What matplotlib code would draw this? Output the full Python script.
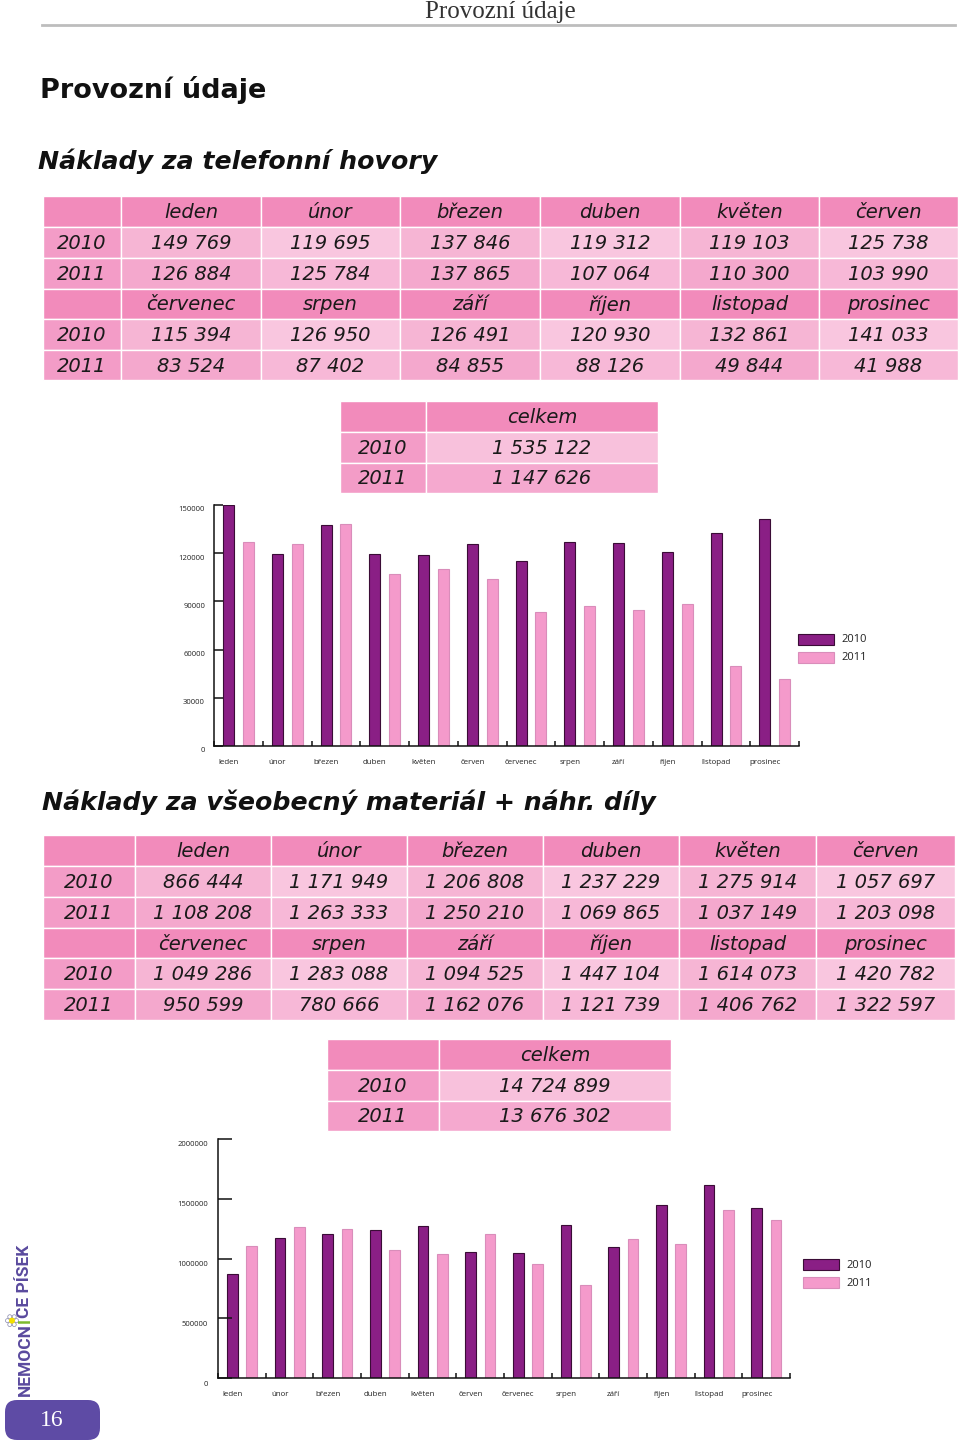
import matplotlib
matplotlib.use("Agg")
import numpy as np
import matplotlib.pyplot as plt
from matplotlib.patches import Rectangle, FancyBboxPatch, Circle
import matplotlib.transforms as mtransforms

W, H = 960, 1442
DPI = 100

# ---------------- data ----------------
months = ["leden", "únor", "březen", "duben", "květen", "červen",
          "červenec", "srpen", "září", "říjen", "listopad", "prosinec"]
years = ["2010", "2011"]
tel_2010 = [149769, 119695, 137846, 119312, 119103, 125738,
            115394, 126950, 126491, 120930, 132861, 141033]
tel_2011 = [126884, 125784, 137865, 107064, 110300, 103990,
            83524, 87402, 84855, 88126, 49844, 41988]
tel_total = [1535122, 1147626]
mat_2010 = [866444, 1171949, 1206808, 1237229, 1275914, 1057697,
            1049286, 1283088, 1094525, 1447104, 1614073, 1420782]
mat_2011 = [1108208, 1263333, 1250210, 1069865, 1037149, 1203098,
            950599, 780666, 1162076, 1121739, 1406762, 1322597]
mat_total = [14724899, 13676302]
tel_yticks = [0, 30000, 60000, 90000, 120000, 150000]
mat_yticks = [0, 500000, 1000000, 1500000, 2000000]

# ---------------- style ----------------
HDR = "#F28BBB"
FIRST = "#F39CC7"
DATA = [["#F6B5D4", "#F4A8CD"], ["#F9C6DF", "#F7B8D7"]]
SUM = ["#F8C1DC", "#F5A9CF"]
C10, E10 = "#8A1F85", "#3A0C36"
C11, E11 = "#F49ACB", "#D98DBA"
TXT = "#1a1a1a"
TFONT = dict(family="DejaVu Sans", style="italic", fontsize=14, color=TXT)
SFONT = "Open Sans"


def fmt(v):
    return f"{v:,}".replace(",", " ")


fig = plt.figure(figsize=(W / DPI, H / DPI), dpi=DPI)
ov = fig.add_axes([0, 0, 1, 1])
ov.set_xlim(0, W)
ov.set_ylim(H, 0)
ov.axis("off")


def cell(x0, x1, y0, y1, color, text=""):
    ov.add_patch(Rectangle((x0, y0), x1 - x0, y1 - y0, facecolor=color,
                           edgecolor="white", linewidth=1.0))
    if text:
        ov.text((x0 + x1) / 2, (y0 + y1) / 2 + 1, text, ha="center",
                va="center", **TFONT)


def main_table(xs, ys, v10, v11):
    for r0, sl in ((0, slice(0, 6)), (3, slice(6, 12))):
        ms, a, b = months[sl], v10[sl], v11[sl]
        cell(xs[0], xs[1], ys[r0], ys[r0 + 1], HDR)
        for j, m in enumerate(ms):
            cell(xs[j + 1], xs[j + 2], ys[r0], ys[r0 + 1], HDR, m)
        for k, (yr, vals) in enumerate(zip(years, (a, b))):
            r = r0 + 1 + k
            cell(xs[0], xs[1], ys[r], ys[r + 1], FIRST, yr)
            for j, v in enumerate(vals):
                cell(xs[j + 1], xs[j + 2], ys[r], ys[r + 1],
                     DATA[j % 2][k], fmt(v))


def sum_table(xs, ys, totals):
    cell(xs[0], xs[1], ys[0], ys[1], HDR)
    cell(xs[1], xs[2], ys[0], ys[1], HDR, "celkem")
    for k, (yr, v) in enumerate(zip(years, totals)):
        cell(xs[0], xs[1], ys[k + 1], ys[k + 2], FIRST, yr)
        cell(xs[1], xs[2], ys[k + 1], ys[k + 2], SUM[k], fmt(v))


def chart(x0, ytop, x1, ybot, v10, v11, yticks, ytick_len, ldx, ldy):
    ax = fig.add_axes([x0 / W, 1 - ybot / H, (x1 - x0) / W, (ybot - ytop) / H])
    ax.set_facecolor("none")
    n = len(months)
    pos = np.arange(n)
    ax.bar(pos + 0.30, v10, width=0.225, color=C10, edgecolor=E10, linewidth=0.8)
    ax.bar(pos + 0.705, v11, width=0.225, color=C11, edgecolor=E11, linewidth=0.8)
    ax.set_xlim(0, n)
    ax.set_ylim(0, yticks[-1])
    for s in ("top", "right"):
        ax.spines[s].set_visible(False)
    for s in ("left", "bottom"):
        ax.spines[s].set_linewidth(1.1)
        ax.spines[s].set_color("#111111")
    ax.set_yticks(yticks)
    ax.set_yticklabels([])
    ax.set_xticks(range(n + 1))
    ax.set_xticklabels([])
    ax.tick_params(axis="y", direction="in", length=ytick_len, width=1.1, color="#111111")
    ax.tick_params(axis="x", direction="in", length=3.6, width=1.1, color="#111111")
    tr = mtransforms.blended_transform_factory(ax.transAxes, ax.transData) + \
        mtransforms.ScaledTranslation(-ldx / DPI, -ldy / DPI, fig.dpi_scale_trans)
    for v in yticks:
        ax.text(0, v, str(v), transform=tr, ha="right", va="center",
                family=SFONT, fontsize=5.5, color="#222222")
    tr2 = ax.transData + mtransforms.ScaledTranslation(0, -17 / DPI, fig.dpi_scale_trans)
    for i, m in enumerate(months):
        ax.text(i + 0.30, 0, m, transform=tr2, ha="center", va="center",
                family=SFONT, fontsize=5.7, color="#222222")
    return ax


def legend(x, y):
    for k, (yr, c, e) in enumerate(zip(years, (C10, C11), (E10, E11))):
        yy = y + 18 * k
        ov.add_patch(Rectangle((x, yy), 36, 11, facecolor=c, edgecolor=e, linewidth=0.8))
        ov.text(x + 43, yy + 6, yr, ha="left", va="center", family=SFONT,
                fontsize=8, color="#222222")


# ---------------- header ----------------
ov.text(500, 12, "Provozní údaje", ha="center", va="center",
        family="Liberation Serif", fontsize=18, color="#333333")
ov.plot([42, 955], [25, 25], color="#BDBDBD", linewidth=2)
ov.text(40, 90, "Provozní údaje", ha="left", va="center",
        family="DejaVu Sans", weight="bold", fontsize=19.5, color="#111111")
ov.text(38, 161, "Náklady za telefonní hovory", ha="left", va="center",
        family="DejaVu Sans", weight="bold", style="italic", fontsize=18.2, color="#111111")

# ---------------- section 1 ----------------
main_table([43, 121, 261, 400, 540, 680, 819, 958],
           [196, 227, 258, 289, 319, 350, 380], tel_2010, tel_2011)
sum_table([340, 426, 658], [401, 432, 463, 493], tel_total)
chart(214, 505, 799, 746, tel_2010, tel_2011, tel_yticks, 6.5, 9, 5)
legend(798, 634)

# ---------------- section 2 ----------------
ov.text(42, 802, "Náklady za všeobecný materiál + náhr. díly", ha="left", va="center",
        family="DejaVu Sans", weight="bold", style="italic", fontsize=18.2, color="#111111")
main_table([43, 135, 271, 407, 543, 679, 816, 955],
           [835, 866, 897, 928, 958, 989, 1020], mat_2010, mat_2011)
sum_table([327, 439, 671], [1039, 1070, 1101, 1131], mat_total)
chart(218, 1139, 790, 1378, mat_2010, mat_2011, mat_yticks, 10, 10, 6)
legend(803, 1259)

# ---------------- footer logo ----------------
ov.add_patch(FancyBboxPatch((5, 1400), 95, 40, boxstyle="round,pad=0,rounding_size=12",
                            facecolor="#5E4BA5", edgecolor="none"))
ov.text(52, 1421, "16", ha="center", va="center", family="Liberation Serif",
        fontsize=17, color="white")

renderer = fig.canvas.get_renderer()
LOGO = "#5A4A9E"
ycur = (H - 1396)
xcen = 25 / W
pieces = [("NEMOCN", LOGO), ("I", "#7DBB2E"), ("CE PÍSEK", LOGO)]
i_box = None
for txt, col in pieces:
    t = fig.text(xcen, ycur / H, txt, rotation=90, ha="center", va="bottom",
                 family="Roboto", weight="bold", fontsize=12.5, color=col)
    bb = t.get_window_extent(renderer)
    if txt == "I":
        i_box = bb
    ycur = bb.y1
# small flower next to the green I
fy = H - (i_box.y0 + i_box.y1) / 2
fx = 12
for ang in np.linspace(0, 2 * np.pi, 7)[:-1]:
    ov.add_patch(Circle((fx + 4.5 * np.cos(ang), fy + 4.5 * np.sin(ang)), 2.0,
                        facecolor="white", edgecolor="#8888AA", linewidth=0.5))
ov.add_patch(Circle((fx, fy), 3.0, facecolor="#F5E000", edgecolor="none"))

fig.savefig("out.png", dpi=DPI)
